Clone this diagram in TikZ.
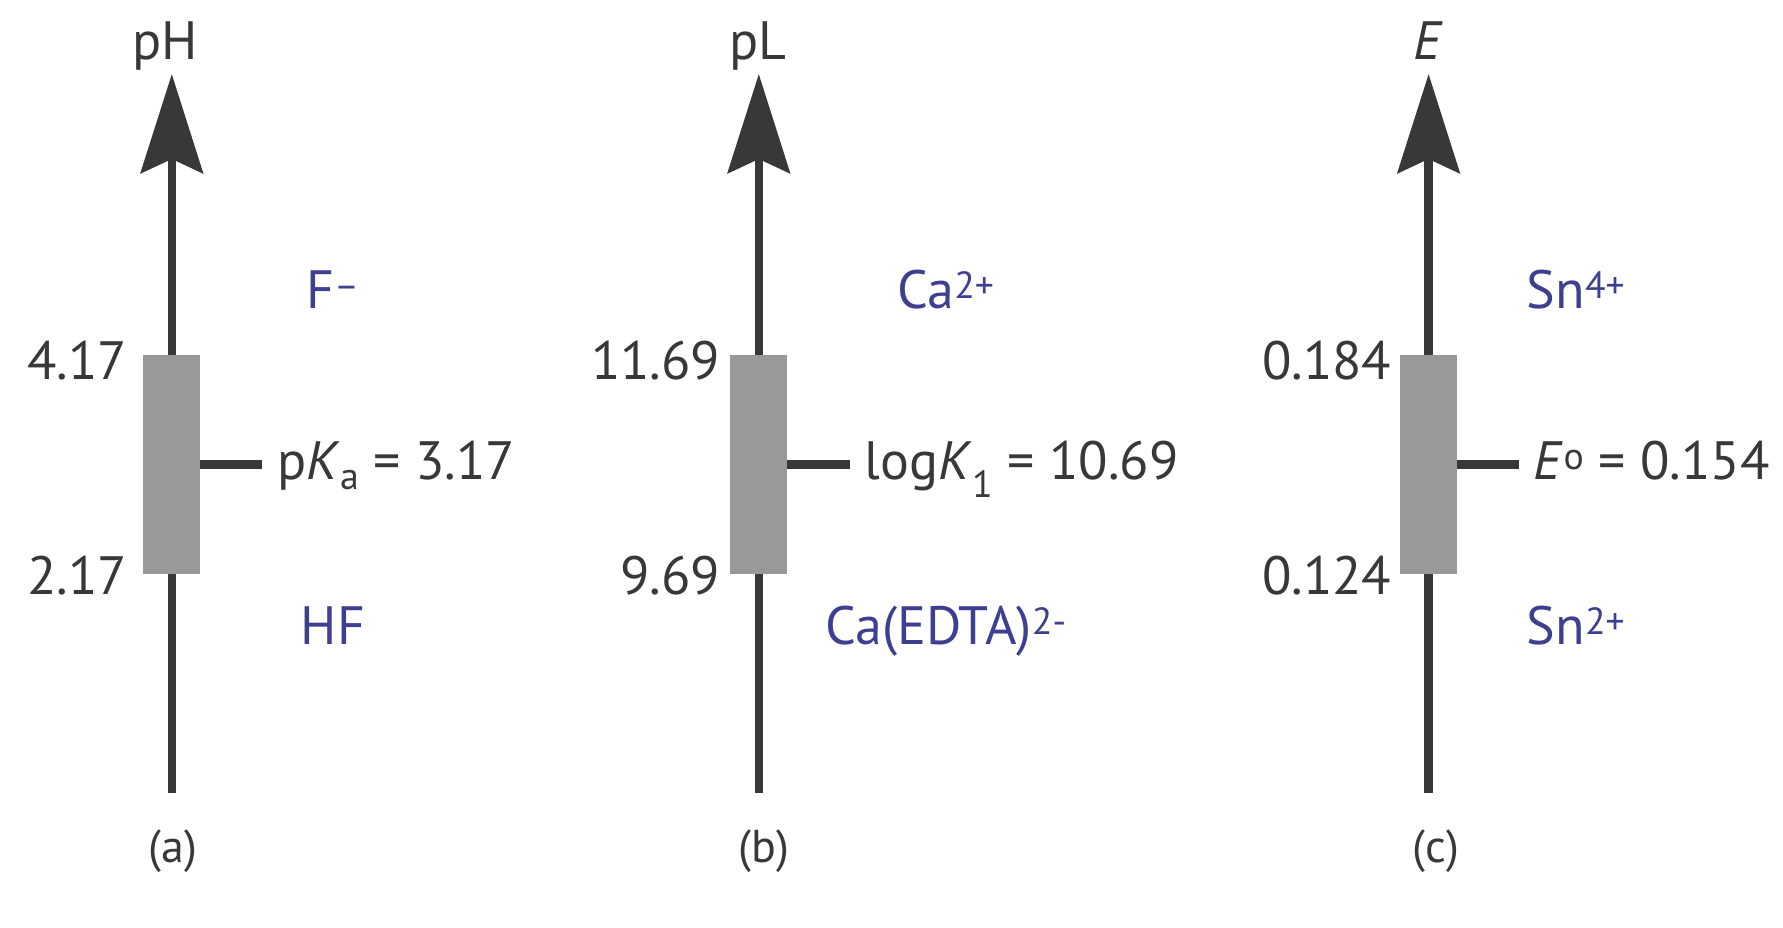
\documentclass[tikz,border=0pt]{standalone}
\usepackage{fontspec}
\setmainfont{PT Sans}
\usepackage{xcolor}
\usepackage{tikz}
\usetikzlibrary{arrows.meta}
\definecolor{ink}{HTML}{383838}
\definecolor{boxgray}{HTML}{98999B}
\definecolor{speciesblue}{HTML}{3F3F91}

\begin{document}
\begin{tikzpicture}[x=1pt, y=-1pt,
  axisline/.style={line width=8.5pt, draw=ink,
                   -{Stealth[length=99pt, width=62pt, inset=14pt]}},
  rangebox/.style={fill=boxgray, minimum width=56.7pt, minimum height=219pt,
                   inner sep=0pt},
  tickline/.style={line width=8.3pt, draw=ink},
  valuelabel/.style={anchor=base east, inner sep=0pt, text=ink,
                     font=\fontsize{54}{60}\selectfont},
  eqlabel/.style={anchor=base west, inner xsep=15pt, inner ysep=0pt, text=ink,
                  font=\fontsize{54}{60}\selectfont},
  species/.style={anchor=base, inner sep=0pt, text=speciesblue,
                  font=\fontsize{54}{60}\selectfont},
  axislabel/.style={anchor=base, inner sep=0pt, text=ink,
                    font=\fontsize{54}{60}\selectfont},
  panellabel/.style={anchor=base, inner sep=0pt, text=ink,
                     font=\fontsize{46}{50}\selectfont}
]
  \useasboundingbox (0,0) rectangle (1783,928);

  \coordinate (abot) at (171.8,793);
  \coordinate (atop) at (171.8,74);
  \draw[axisline] (abot) -- (atop);
  \node[rangebox] (boxa) at (171.8,464.5) {};
  \node[axislabel] (pha) at (165.5,59.5) {pH};
  \node[valuelabel] (hia) at (127.4,379) {4.17};
  \node[valuelabel] (loa) at (127.4,594) {2.17};
  \node[eqlabel] (pka) at (262,479) {p\textit{K}\textsubscript{a} = 3.17};
  \node[species] (basea) at (333,308) {F\textsuperscript{–}};
  \node[species] (acida) at (333,644) {HF};
  \node[panellabel] (capa) at (172.6,862) {(a)};
  \draw[tickline] (boxa) -- (boxa -| pka.west);

  \coordinate (bbot) at (758.8,793);
  \coordinate (btop) at (758.8,74);
  \draw[axisline] (bbot) -- (btop);
  \node[rangebox] (boxb) at (758.8,464.5) {};
  \node[axislabel] (plb) at (758,59.5) {pL};
  \node[valuelabel] (hib) at (720.5,379) {11.69};
  \node[valuelabel] (lob) at (720.5,594) {9.69};
  \node[eqlabel] (logkb) at (849.5,479) {log\textit{K}\textsubscript{1} = 10.69};
  \node[species] (freeb) at (946,308) {Ca\textsuperscript{2+}};
  \node[species] (boundb) at (946,644) {Ca(EDTA)\textsuperscript{2-}};
  \node[panellabel] (capb) at (764,862) {(b)};
  \draw[tickline] (boxb) -- (boxb -| logkb.west);

  \coordinate (cbot) at (1428.6,793);
  \coordinate (ctop) at (1428.6,74);
  \draw[axisline] (cbot) -- (ctop);
  \node[rangebox] (boxc) at (1428.6,464.5) {};
  \node[axislabel] (ec) at (1428,59.5) {\textit{E}};
  \node[valuelabel] (hic) at (1391.5,379) {0.184};
  \node[valuelabel] (loc) at (1391.5,594) {0.124};
  \node[eqlabel] (e0c) at (1518.6,479) {\textit{E}\textsuperscript{o} = 0.154};
  \node[species] (oxc) at (1576,308) {Sn\textsuperscript{4+}};
  \node[species] (redc) at (1576,644) {Sn\textsuperscript{2+}};
  \node[panellabel] (capc) at (1436,862) {(c)};
  \draw[tickline] (boxc) -- (boxc -| e0c.west);
\end{tikzpicture}
\end{document}
